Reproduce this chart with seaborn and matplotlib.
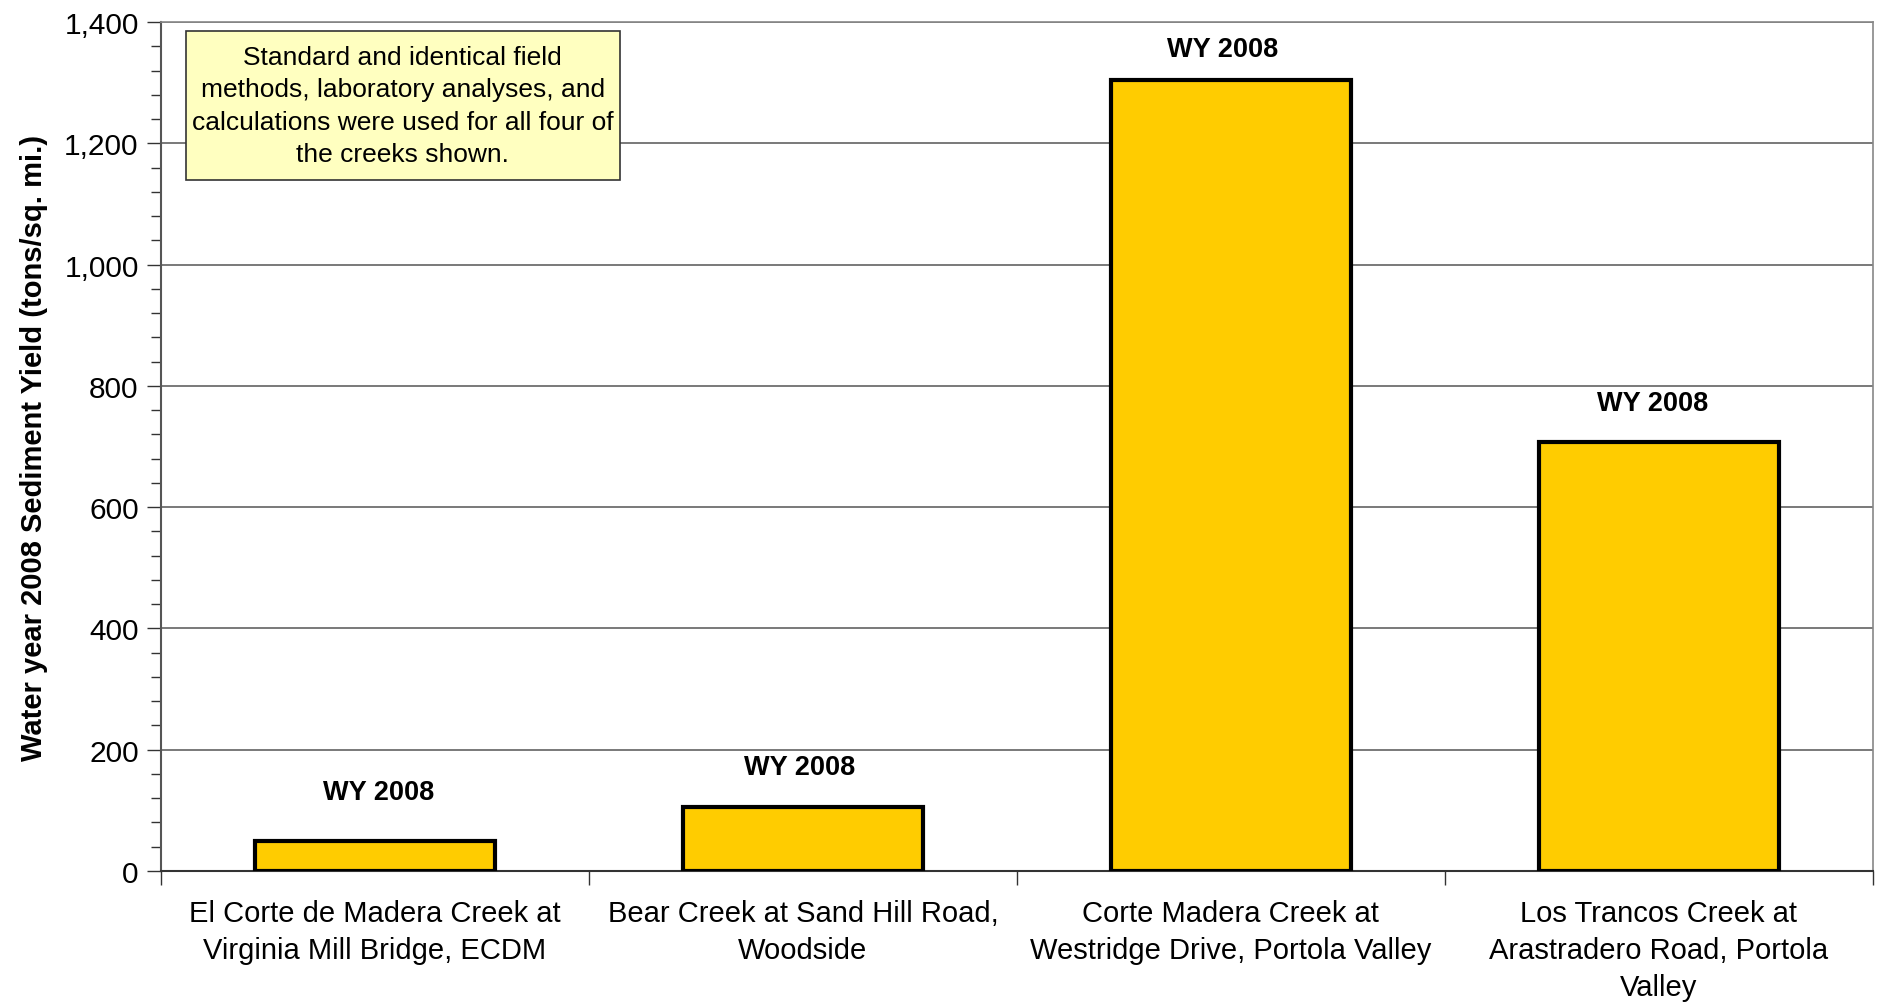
import matplotlib
matplotlib.use("Agg")
import matplotlib.pyplot as plt
import seaborn as sns
import pandas as pd
from matplotlib.patches import Rectangle
from matplotlib.ticker import MultipleLocator, FixedLocator, FuncFormatter

categories = [
    "El Corte de Madera Creek at\nVirginia Mill Bridge, ECDM",
    "Bear Creek at Sand Hill Road,\nWoodside",
    "Corte Madera Creek at\nWestridge Drive, Portola Valley",
    "Los Trancos Creek at\nArastradero Road, Portola\nValley",
]
values = [50, 105, 1305, 707]
bar_labels = ["WY 2008", "WY 2008", "WY 2008", "WY 2008"]
label_y = [130, 171, 1355, 772]
label_dx = [0.008, -0.008, -0.02, -0.014]
y_label = "Water year 2008 Sediment Yield (tons/sq. mi.)"
note = ("Standard and identical field\nmethods, laboratory analyses, and\n"
        "calculations were used for all four of\nthe creeks shown.")

sns.set_theme(style="white")
plt.rcParams['font.family'] = ['Liberation Sans', 'DejaVu Sans']
plt.rcParams['text.color'] = 'black'
plt.rcParams['axes.labelcolor'] = 'black'
plt.rcParams['xtick.labelcolor'] = 'black'
plt.rcParams['ytick.labelcolor'] = 'black'

df = pd.DataFrame({"site": categories, "yield": values})

fig = plt.figure(figsize=(18.78, 10.03), dpi=100)
ax = fig.add_axes([0.0857, 0.1306, 0.9973 - 0.0857, 0.977 - 0.1306])

sns.barplot(data=df, x="site", y="yield", color="#FFCC00", width=0.56,
            edgecolor="black", linewidth=3.0, saturation=1, ax=ax, zorder=3)

ax.set_xlim(-0.5, 3.5)
ax.set_ylim(0, 1400)

# y axis
ax.yaxis.set_major_locator(MultipleLocator(200))
ax.yaxis.set_minor_locator(MultipleLocator(40))
ax.yaxis.set_major_formatter(FuncFormatter(lambda v, p: f"{int(v):,}"))
ax.tick_params(axis="y", which="major", length=10, width=1, color="#333333",
               labelsize=21.5, pad=6, left=True, direction="out",
               labelcolor="black")
ax.tick_params(axis="y", which="minor", length=7, width=1, color="#333333",
               left=True, direction="out")
ax.grid(axis="y", which="major", color="#555555", linewidth=1.1, zorder=0)
ax.set_axisbelow(True)

# x axis: ticks at category boundaries, labels at centers
ax.xaxis.set_major_locator(FixedLocator([-0.5, 0.5, 1.5, 2.5, 3.5]))
ax.set_xticklabels([], minor=False)
ax.set_xticks([0, 1, 2, 3], minor=True)
ax.set_xticklabels(categories, minor=True, fontsize=21, linespacing=1.42,
                   color="black")
ax.tick_params(axis="x", which="major", length=10, width=1, color="#333333",
               bottom=True, direction="out")
ax.tick_params(axis="x", which="minor", length=0, pad=20)
ax.set_xlabel("")
ax.set_ylabel(y_label, fontsize=21, fontweight="bold", labelpad=12,
              color="black")

for s in ["top", "right"]:
    ax.spines[s].set_color("#888888")
    ax.spines[s].set_linewidth(1.2)
ax.spines["left"].set_color("#555555")
ax.spines["left"].set_linewidth(1.5)
ax.spines["bottom"].set_color("#333333")
ax.spines["bottom"].set_linewidth(1.5)

for i, (lab, yy, dx) in enumerate(zip(bar_labels, label_y, label_dx)):
    ax.text(i + dx, yy, lab, ha="center", va="center", fontsize=19.5,
            fontweight="bold", color="black", zorder=5)

# note box
ax.add_patch(Rectangle((0.0146, 0.8139), 0.268 - 0.0146, 0.9894 - 0.8139,
                       transform=ax.transAxes, facecolor="#FFFFC0",
                       edgecolor="#333333", linewidth=1.2, zorder=6))
ax.text(0.1413, 0.9016, note, transform=ax.transAxes, ha="center",
        va="center", fontsize=19, linespacing=1.44, color="black", zorder=7)

fig.savefig("out.png", dpi=100)
